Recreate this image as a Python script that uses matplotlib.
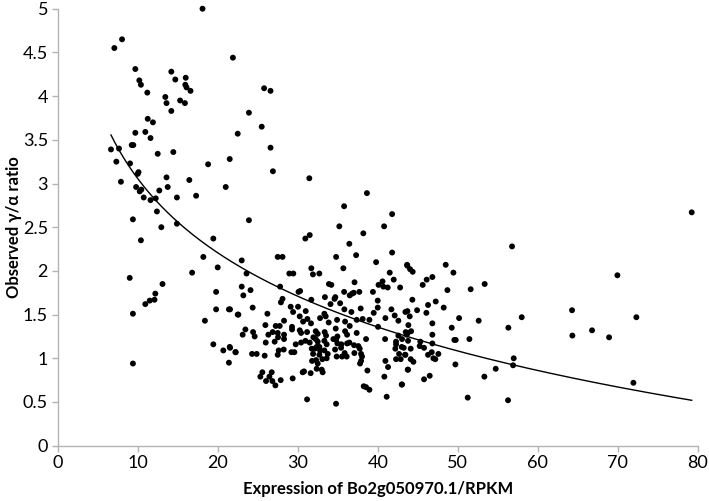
import numpy as np
import matplotlib.pyplot as plt

plt.rcParams['font.family'] = ['Lato', 'DejaVu Sans']

# (expression RPKM, observed gamma/alpha ratio)
points_low = [
    (18.1, 5.0), (8.04, 4.65), (7.08, 4.55), (21.9, 4.44), (9.7, 4.31), (14.2, 4.28),
    (10.2, 4.18), (10.4, 4.13), (14.7, 4.19), (16.0, 4.21), (15.95, 4.13), (16.1, 4.10),
    (16.6, 4.06), (11.2, 4.04), (13.45, 3.99), (13.6, 3.92), (15.3, 3.95), (15.9, 3.92),
    (14.2, 3.83), (11.25, 3.74), (11.9, 3.70), (9.7, 3.58), (10.95, 3.59), (11.6, 3.52),
    (9.25, 3.44), (9.45, 3.44), (6.66, 3.39), (7.66, 3.40), (12.5, 3.34), (14.45, 3.36),
    (22.5, 3.57), (21.5, 3.28), (25.8, 4.09), (26.6, 4.06), (23.9, 3.81), (25.5, 3.65),
    (26.6, 3.41), (7.33, 3.25), (9.04, 3.23), (10.1, 3.13), (10.0, 3.11), (13.6, 3.07),
    (18.8, 3.22), (7.9, 3.02), (16.45, 3.04), (21.0, 2.96), (9.8, 2.96), (10.45, 2.93),
    (10.25, 2.91), (12.7, 2.92), (13.75, 2.96), (10.75, 2.84), (11.6, 2.81), (12.25, 2.83),
    (14.9, 2.84), (17.3, 2.86), (12.4, 2.68), (9.4, 2.59), (12.95, 2.50), (14.9, 2.54),
    (10.4, 2.35), (19.45, 2.37), (18.2, 2.16), (20.0, 2.04), (16.8, 1.98), (9.0, 1.92),
    (13.1, 1.85), (12.2, 1.74), (11.5, 1.66), (12.1, 1.67), (10.95, 1.62), (19.8, 1.76),
    (19.8, 1.56), (21.4, 1.56), (9.4, 1.51), (9.4, 0.94), (18.4, 1.43), (22.5, 1.50),
    (19.45, 1.16), (20.7, 1.09), (21.5, 1.13), (22.25, 1.07), (21.4, 0.95),
]

points_mid_upper = [
    (26.9, 3.14), (31.45, 3.06), (38.65, 2.89), (35.8, 2.74), (41.8, 2.65), (23.9, 2.58),
    (35.2, 2.51), (40.8, 2.51), (31.5, 2.41), (30.95, 2.37), (38.2, 2.43), (36.45, 2.31),
    (23.0, 2.12), (27.5, 2.16), (28.1, 2.16), (34.8, 2.16), (37.3, 2.18), (41.8, 2.21),
    (39.8, 2.10), (31.7, 2.03), (35.7, 2.03), (43.7, 2.06), (23.6, 1.97), (28.95, 1.97),
    (29.45, 1.97), (31.9, 1.96), (32.7, 1.97), (41.5, 1.98), (23.0, 1.82), (24.1, 1.78),
    (23.2, 1.72), (27.8, 1.82), (30.1, 1.76), (30.3, 1.77), (33.9, 1.85), (34.2, 1.84),
    (37.1, 1.87), (40.1, 1.84), (40.6, 1.88), (40.7, 1.82), (41.25, 1.81), (42.0, 1.90),
    (42.8, 1.81), (27.9, 1.64), (28.1, 1.68), (31.7, 1.67), (33.4, 1.70), (34.6, 1.68),
    (34.7, 1.70), (35.8, 1.76), (36.5, 1.72), (36.8, 1.74), (37.0, 1.75), (37.7, 1.76),
    (39.4, 1.76), (40.0, 1.66), (34.1, 1.62), (35.3, 1.63),
]

points_mid_lower = [
    (29.12, 1.59), (30.04, 1.59), (21.54, 1.56), (24.37, 1.58), (22.58, 1.50), (26.21, 1.51),
    (29.42, 1.53), (31.0, 1.54), (33.33, 1.51), (33.5, 1.48), (35.83, 1.56), (36.71, 1.53),
    (37.87, 1.57), (39.5, 1.52), (40.0, 1.58), (41.71, 1.56), (42.12, 1.49), (43.46, 1.53),
    (30.25, 1.48), (30.67, 1.42), (31.21, 1.45), (31.66, 1.40), (28.29, 1.43), (25.96, 1.38),
    (27.25, 1.37), (27.75, 1.37), (29.29, 1.36), (32.79, 1.46), (33.87, 1.41), (34.92, 1.44),
    (35.92, 1.42), (36.5, 1.37), (37.37, 1.44), (38.12, 1.45), (38.96, 1.44), (40.04, 1.36),
    (40.96, 1.46), (42.58, 1.43), (23.46, 1.33), (23.12, 1.27), (24.42, 1.30), (24.62, 1.25),
    (26.33, 1.27), (26.87, 1.30), (27.5, 1.29), (28.29, 1.27), (27.54, 1.24), (29.29, 1.33),
    (30.25, 1.32), (30.42, 1.29), (31.17, 1.30), (32.25, 1.31), (32.5, 1.28), (31.96, 1.24),
    (33.37, 1.30), (33.54, 1.26), (34.75, 1.34), (34.96, 1.25), (35.92, 1.31), (36.17, 1.27),
    (37.37, 1.29), (38.54, 1.22), (40.92, 1.22), (42.58, 1.26), (43.62, 1.27), (26.0, 1.18),
    (27.12, 1.19), (28.29, 1.22), (29.75, 1.16), (30.42, 1.18), (30.96, 1.20), (31.5, 1.18),
    (32.25, 1.22), (32.5, 1.19), (32.37, 1.13), (33.33, 1.20), (33.62, 1.16), (34.46, 1.22),
    (34.79, 1.21), (34.96, 1.17), (35.46, 1.16), (36.17, 1.17), (36.46, 1.18), (37.04, 1.15),
    (37.58, 1.14), (42.29, 1.19), (42.29, 1.16), (43.04, 1.22), (21.54, 1.12), (22.21, 1.07),
    (24.29, 1.05), (24.87, 1.05), (25.87, 1.03), (27.62, 1.09), (27.5, 1.04), (28.25, 1.10),
    (29.21, 1.07), (29.58, 1.07), (31.75, 1.11), (32.12, 1.11), (32.71, 1.13), (32.79, 1.09),
    (33.33, 1.09), (31.92, 1.05), (32.71, 1.04), (33.75, 1.05), (34.67, 1.10), (35.42, 1.12),
    (34.87, 1.02), (35.87, 1.06), (35.54, 1.02), (36.12, 1.02), (37.08, 1.06), (37.75, 1.11),
    (37.92, 1.05), (38.04, 1.02), (42.2, 1.11), (42.67, 1.05), (43.25, 1.12), (43.46, 1.04),
    (31.79, 0.97), (32.29, 0.98), (32.5, 0.94), (33.08, 0.99), (33.62, 1.00), (37.92, 0.97),
    (37.79, 0.94), (40.96, 0.97), (41.29, 0.90), (42.29, 0.99), (42.87, 0.99), (25.58, 0.84),
    (25.33, 0.79), (26.04, 0.74), (26.46, 0.79), (26.83, 0.74), (27.21, 0.69), (27.87, 0.75),
    (26.75, 0.84), (29.37, 0.77), (30.62, 0.84), (30.79, 0.85), (31.62, 0.83), (32.37, 0.88),
    (33.0, 0.87), (33.12, 0.84), (38.71, 0.86), (40.83, 0.79), (43.75, 0.87), (43.04, 0.70),
    (38.25, 0.68), (38.54, 0.67), (38.96, 0.64), (31.17, 0.53), (34.79, 0.48), (41.12, 0.56),
]

points_high = [
    (56.79, 2.28), (43.67, 2.07), (44.04, 2.02), (44.37, 1.99), (48.5, 2.07), (49.46, 1.98),
    (46.83, 1.93), (46.12, 1.90), (45.62, 1.84), (48.71, 1.78), (51.62, 1.79), (53.37, 1.85),
    (44.33, 1.67), (46.29, 1.61), (47.25, 1.65), (48.25, 1.58), (43.71, 1.54), (44.92, 1.55),
    (46.08, 1.52), (44.0, 1.48), (64.29, 1.55), (50.17, 1.46), (52.62, 1.43), (58.0, 1.47),
    (46.83, 1.40), (43.83, 1.38), (49.25, 1.35), (56.33, 1.35), (43.5, 1.30), (44.17, 1.31),
    (43.75, 1.29), (46.83, 1.27), (64.33, 1.26), (43.79, 1.20), (45.33, 1.19), (49.58, 1.21),
    (49.75, 1.21), (51.46, 1.22), (45.25, 1.14), (46.83, 1.17), (43.0, 1.13), (44.12, 1.11),
    (45.79, 1.12), (46.29, 1.04), (46.75, 1.07), (47.58, 1.05), (43.42, 1.04), (44.12, 0.99),
    (44.46, 0.96), (46.96, 1.00), (47.2, 0.99), (57.0, 1.00), (49.71, 0.93), (56.92, 0.92),
    (54.75, 0.88), (43.79, 0.87), (53.33, 0.79), (45.79, 0.76), (46.5, 0.80), (43.0, 0.70),
    (51.25, 0.55), (56.29, 0.52), (79.25, 2.67), (69.96, 1.95), (72.33, 1.47), (66.79, 1.32),
    (68.92, 1.24), (71.96, 0.72),
]

# logarithmic trendline y = a - b*ln(x), drawn over the data range
trend_a, trend_b = 5.879, 1.2257
trend_start, trend_end = 6.66, 79.25

points = points_low + points_mid_upper + points_mid_lower + points_high
expr = np.array([p[0] for p in points])
ratio = np.array([p[1] for p in points])

fig = plt.figure(figsize=(7.09, 5.01), dpi=100)
ax = fig.add_axes([0.0814, 0.1104, 0.9027, 0.8722])

ax.scatter(expr, ratio, s=18, color='black', edgecolors='none', zorder=3, clip_on=False)

xs = np.linspace(trend_start, trend_end, 300)
ax.plot(xs, trend_a - trend_b * np.log(xs), color='black', lw=1.0, zorder=2)

ax.set_xlim(0, 80)
ax.set_ylim(0, 5)
ax.set_xticks(np.arange(0, 81, 10))
ax.set_yticks(np.arange(0, 5.01, 0.5))
ax.set_yticklabels(['0', '0.5', '1', '1.5', '2', '2.5', '3', '3.5', '4', '4.5', '5'])

for side in ['top', 'right']:
    ax.spines[side].set_visible(False)
for side in ['left', 'bottom']:
    ax.spines[side].set_color('#b3b3b3')
    ax.spines[side].set_linewidth(1.0)
ax.tick_params(direction='out', length=4, width=1.0, color='#b3b3b3',
               labelsize=13, labelcolor='black', pad=3)

ax.set_xlabel('Expression of Bo2g050970.1/RPKM', fontsize=12, fontweight='bold', va='center')
ax.set_ylabel('Observed γ/α ratio', fontsize=12, fontweight='bold', va='center')
ax.xaxis.set_label_coords(0.5, -0.099)
ax.yaxis.set_label_coords(-0.068, 0.5)

fig.savefig('out.png', dpi=100)
